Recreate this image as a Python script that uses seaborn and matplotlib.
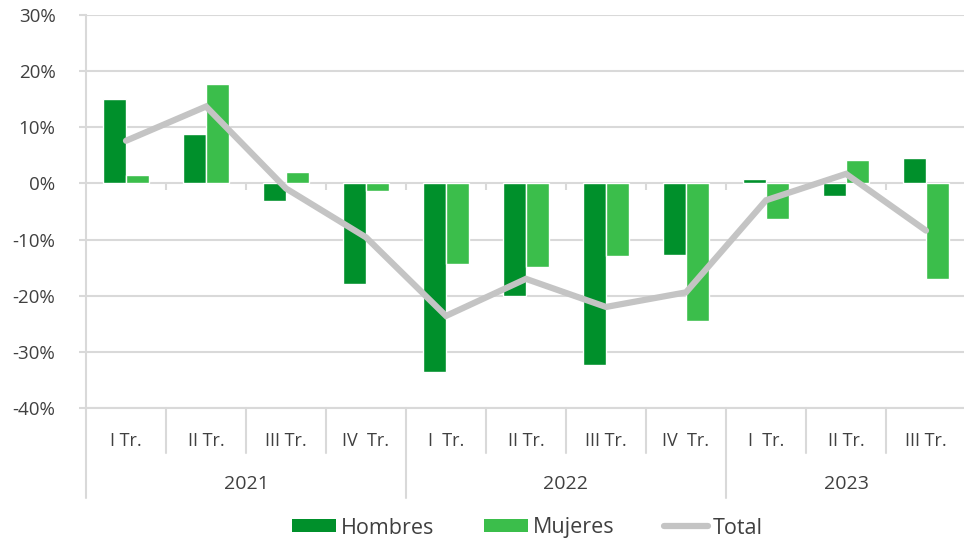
import numpy as np
import pandas as pd
import matplotlib
matplotlib.use("Agg")
import matplotlib.pyplot as plt
import seaborn as sns
from matplotlib.transforms import blended_transform_factory
from matplotlib.lines import Line2D
from matplotlib.patches import Patch

# ---- data ----
quarters = ["I Tr.", "II Tr.", "III Tr.", "IV  Tr.",
            "I  Tr.", "II Tr.", "III Tr.", "IV  Tr.",
            "I  Tr.", "II Tr.", "III Tr."]
years = ["2021", "2022", "2023"]
year_span = [4, 4, 3]
hombres = [15.1, 8.8, -3.1, -18.0, -33.6, -20.1, -32.3, -12.7, 0.8, -2.2, 4.5]
mujeres = [1.5, 17.7, 2.1, -1.3, -14.3, -14.9, -13.0, -24.5, -6.4, 4.2, -17.0]
total = [7.6, 13.7, -0.9, -9.6, -23.6, -17.0, -22.0, -19.4, -3.0, 1.7, -8.4]
yticks = [-40, -30, -20, -10, 0, 10, 20, 30]

DARK = "#00902B"
LIGHT = "#3BBE4B"
GREY = "#C4C4C4"
GRID = "#D9D9D9"
TXT = "#404040"

sns.set_theme(style="white")
plt.rcParams["font.family"] = ["Open Sans", "DejaVu Sans"]
plt.rcParams["text.color"] = TXT

keys = [f"{i:02d}" for i in range(len(quarters))]
df = pd.DataFrame({
    "key": keys * 2,
    "valor": hombres + mujeres,
    "serie": ["Hombres"] * len(keys) + ["Mujeres"] * len(keys),
})

fig = plt.figure(figsize=(9.64, 5.42), dpi=100)
H = 542
ax = fig.add_axes([86 / 964, 1 - 408 / H, 880 / 964, (408 - 15) / H])

sns.barplot(data=df, x="key", y="valor", hue="serie", order=keys,
            palette=[DARK, LIGHT], width=0.575, saturation=1,
            legend=False, ax=ax, zorder=2)
sns.lineplot(x=np.arange(len(total)), y=total, color=GREY, linewidth=4.5,
             ax=ax, zorder=3, solid_capstyle="round", solid_joinstyle="miter")

ax.set_xlim(-0.5, len(quarters) - 0.5)
ax.set_ylim(-40, 30)
ax.set_yticks(yticks)
ax.set_yticklabels([f"{v}%" for v in yticks])
ax.yaxis.grid(True, color=GRID, linewidth=1.5)
ax.set_axisbelow(True)
ax.set_xlabel("")
ax.set_ylabel("")

for s in ["top", "right"]:
    ax.spines[s].set_visible(False)
for s in ["left", "bottom"]:
    ax.spines[s].set_color(GRID)
    ax.spines[s].set_linewidth(1.5)

ax.tick_params(axis="y", left=True, length=5, width=1.5, color=GRID,
               pad=17, labelsize=13.5, labelcolor=TXT)
ax.set_xticks(np.arange(len(quarters)))
ax.set_xticklabels(quarters)
ax.tick_params(axis="x", bottom=False, length=0, pad=17, labelsize=13,
               labelcolor=TXT)

# small ticks on zero line at category boundaries
bounds = np.arange(len(quarters) + 1) - 0.5
ax.vlines(bounds[1:-1], -1.25, 0, color=GRID, linewidth=1.5, zorder=1)

# separators below the axis (two-level category axis)
tr = blended_transform_factory(ax.transData, ax.transAxes)
year_starts = np.cumsum([0] + year_span)
for i, b in enumerate(bounds):
    long = i in year_starts
    y1 = -90 / 393 if long else -45 / 393
    ax.add_line(Line2D([b, b], [0, y1], transform=tr, color=GRID,
                       linewidth=1.5, clip_on=False))

for yr, st, sp in zip(years, year_starts[:-1], year_span):
    ax.text(st + (sp - 1) / 2, -76 / 393, yr, transform=tr, ha="center",
            va="center", fontsize=14, color=TXT)

handles = [Patch(facecolor=DARK, edgecolor="none"),
           Patch(facecolor=LIGHT, edgecolor="none"),
           Line2D([0], [0], color=GREY, linewidth=4.5, solid_capstyle="round")]
fig.legend(handles, ["Hombres", "Mujeres", "Total"], loc="center",
           bbox_to_anchor=(0.547, 1 - 528 / H), ncol=3, frameon=False,
           fontsize=15.5, handlelength=2.05, handleheight=0.55,
           handletextpad=0.22, columnspacing=2.3, labelcolor=TXT)

fig.savefig("out.png", dpi=100)
